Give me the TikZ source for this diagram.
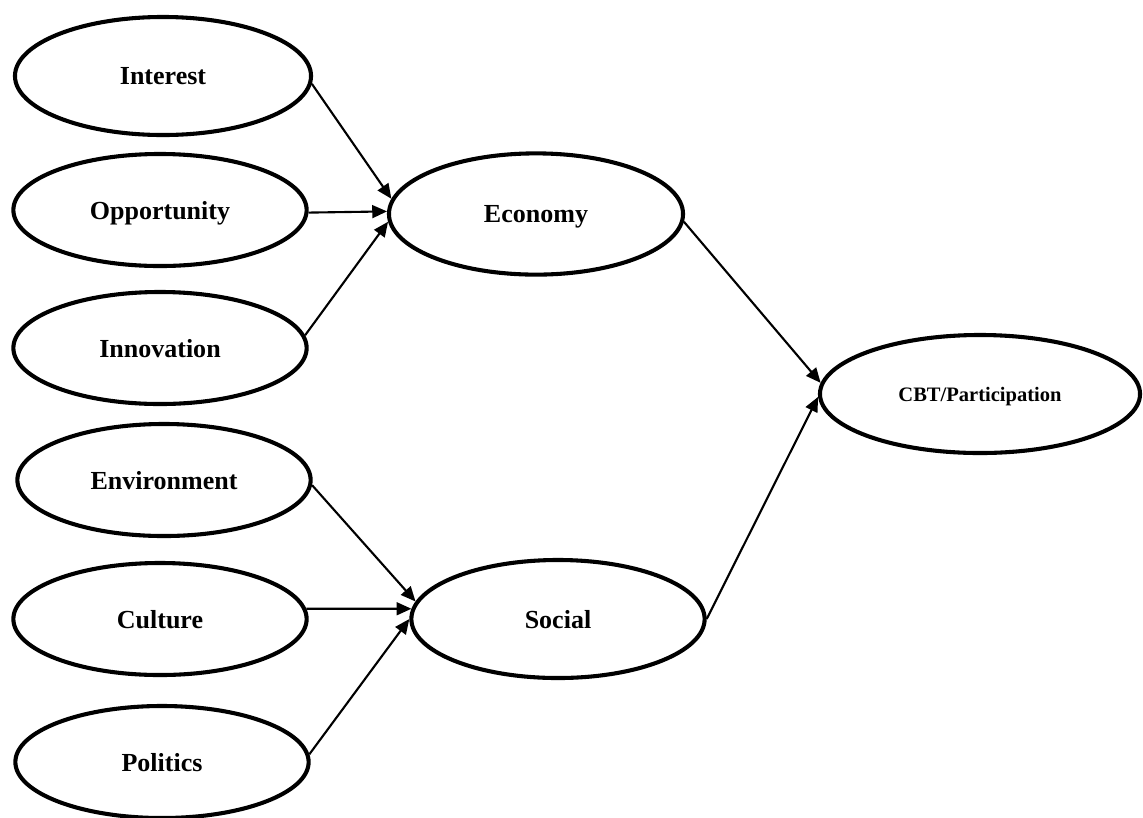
\documentclass[tikz,border=0pt]{standalone}
\usepackage{fontspec}
\setmainfont{Liberation Serif}
\usetikzlibrary{
  shapes.geometric,
  arrows.meta,
  positioning
}

\begin{document}
\begin{tikzpicture}[x = 0.025cm, y = -0.025cm,
    factor/.style = {ellipse, draw, line width = 2.9pt, inner sep = 0pt,
      minimum width = 7.33cm, minimum height = 2.8cm, text depth = 0pt,
      font = \fontsize{18.5}{22}\selectfont\bfseries},
    link/.style = {line width = 1.5pt, -{Triangle[length = 0.37cm, width = 0.32cm]}}]
    \useasboundingbox (0,0) rectangle (1143,817);

    % left column
    \node[factor, minimum width = 7.4cm, minimum height = 2.95cm] (interest) at (163,76) {Interest};
    \node[factor] (opportunity) at (160,210) {Opportunity};
    \node[factor] (innovation) at (160,348) {Innovation};
    \node[factor] (environment) at (164,480) {Environment};
    \node[factor] (culture) at (160,619) {Culture};
    \node[factor] (politics) at (162,762) {Politics};

    % middle column
    \node[factor, minimum width = 7.35cm, minimum height = 3.03cm] (economy) at (536,214) {Economy};
    \node[factor, minimum height = 2.95cm] (social) at (558,619) {Social};

    % outcome
    \node[factor, minimum width = 8cm, minimum height = 2.95cm,
      font = \fontsize{14.6}{18}\selectfont\bfseries] (cbt) at (980,394) {CBT/Participation};

    \draw[link] (interest.357) -- (economy.174);
    \draw[link] (opportunity.359) -- (economy.179);
    \draw[link] (innovation.5) -- (economy.183);

    \draw[link] (environment.358) -- (social.173);
    \draw[link] (culture.4) -- (social.176);
    \draw[link] (politics.3) -- (social.west);

    \draw[link] (economy.357) -- (cbt.176);
    \draw[link] (social.east) -- (cbt.181);
  \end{tikzpicture}
\end{document}
